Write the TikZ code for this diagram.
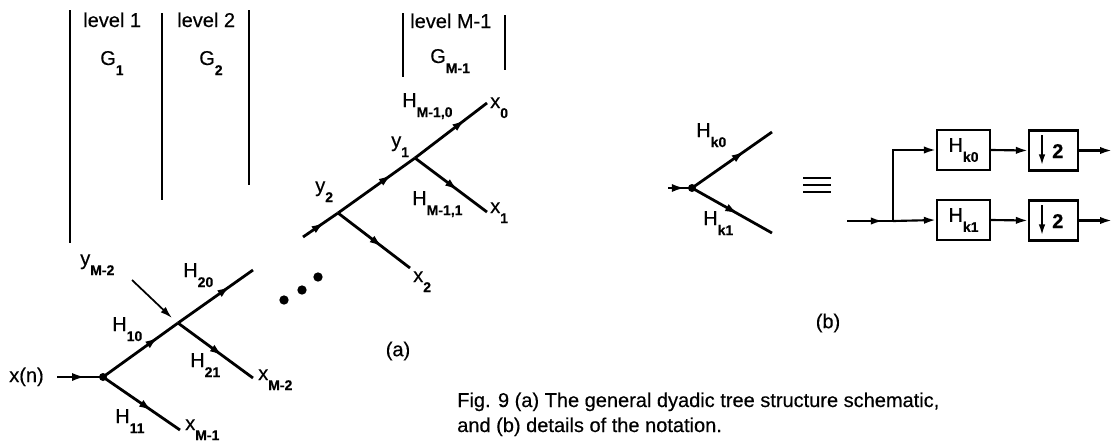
\documentclass[tikz,border=0pt]{standalone}
\usepackage{fontspec}
\setmainfont{Liberation Sans}[FakeBold=0.4]
\usetikzlibrary{arrows.meta,decorations.markings,calc}
\newcommand\sbs[1]{\raisebox{-0.5em}{\fontsize{10.5}{10.5}\selectfont\bfseries #1}}
\begin{document}
\begin{tikzpicture}[x=0.75pt,y=-0.75pt,
  font=\fontsize{15}{18}\selectfont,
  br/.style={line width=2.1pt},
  midarr/.style={postaction={decorate},
    decoration={markings, mark=at position #1 with {\arrow{Latex[length=10pt,width=6pt]}}}},
  lbl/.style={anchor=base west, inner sep=0pt},
  sep/.style={line width=1.5pt},
  box/.style={draw, line width=1.6pt, inner sep=0pt, minimum width=39.75pt, minimum height=30pt},
  conn/.style={line width=1.6pt, -{Latex[length=9pt,width=5.5pt]}},
  dot/.style={circle, fill, inner sep=0pt, minimum size=6pt},
  bigdot/.style={circle, fill, inner sep=0pt, minimum size=7pt}]
\useasboundingbox (0,0) rectangle (1116,447);

% level separators
\draw[sep] (70,10) -- (70,243);
\draw[sep] (162,13) -- (162,200);
\draw[sep] (249,10) -- (249,185);
\draw[sep] (403,13) -- (403,77);
\draw[sep] (505,15) -- (505,70);
\node[lbl] (lv1) at (83,27) {level 1};
\node[lbl] (g1) at (100,65) {G\sbs{1}};
\node[lbl] (lv2) at (177,27) {level 2};
\node[lbl] (g2) at (199,65) {G\sbs{2}};
\node[lbl] (lvm) at (410,28) {level M-1};
\node[lbl] (gm) at (430,63) {G\sbs{M-1}};

% left tree
\coordinate (xs) at (57,377);
\node[dot] (n0) at (103,377) {};
\coordinate (n1) at (178,323);
\coordinate (e20) at (253,270);
\coordinate (e21) at (253,378);
\coordinate (e11) at (180,430);
\draw[br, midarr=0.62] (xs) -- (n0.center);
\draw[br, midarr=0.74] (n0.center) -- (n1);
\draw[br, midarr=0.7] (n1) -- (e20);
\draw[br, midarr=0.6] (n1) -- (e21);
\draw[br, midarr=0.64] (n0.center) -- (e11);
\coordinate (ya) at (132,280);
\coordinate (yb) at (172,318);
\draw[line width=1.3pt, -{Latex[length=9pt,width=5.5pt]}] (ya) -- (yb);

\node[lbl] (xn) at (9,382) {x(n)};
\node[lbl] (ym2) at (80,265) {y\sbs{M-2}};
\node[lbl] (h20) at (183,277) {H\sbs{20}};
\node[lbl] (h10) at (112,331) {H\sbs{10}};
\node[lbl] (h21) at (190,367) {H\sbs{21}};
\node[lbl] (h11) at (115,423) {H\sbs{11}};
\node[lbl] (xm2) at (258,380) {x\sbs{M-2}};
\node[lbl] (xm1) at (185,430) {x\sbs{M-1}};

\node[bigdot] (d1) at (284,300) {};
\node[bigdot] (d2) at (302,290) {};
\node[bigdot] (d3) at (318,277) {};

% right tree
\coordinate (ri) at (303,237);
\coordinate (n2) at (338,213);
\coordinate (n3) at (415,158);
\coordinate (e0) at (487,103);
\coordinate (e1) at (487,212);
\coordinate (e2) at (410,268);
\draw[br, midarr=0.62] (ri) -- (n2);
\draw[br, midarr=0.7] (n2) -- (n3);
\draw[br, midarr=0.7] (n3) -- (e0);
\draw[br, midarr=0.6] (n3) -- (e1);
\draw[br, midarr=0.62] (n2) -- (e2);
\node[lbl] (hm0) at (402,107) {H\sbs{M-1,0}};
\node[lbl] (x0) at (490,108) {x\sbs{0}};
\node[lbl] (y1) at (391,147) {y\sbs{1}};
\node[lbl] (y2) at (315,192) {y\sbs{2}};
\node[lbl] (hm1) at (412,205) {H\sbs{M-1,1}};
\node[lbl] (x1) at (490,213) {x\sbs{1}};
\node[lbl] (x2) at (413,282) {x\sbs{2}};

\node (la) at (398,351) {(a)};
\node (lb) at (828,323) {(b)};

% (b) notation
\coordinate (bi) at (668,188);
\node[dot] (bn) at (692,188) {};
\coordinate (bu) at (772,132);
\coordinate (bd) at (772,233);
\draw[br, midarr=0.72] (bi) -- (bn.center);
\draw[br, midarr=0.66] (bn.center) -- (bu);
\draw[br, midarr=0.58] (bn.center) -- (bd);
\node[lbl] (hk0) at (696,137) {H\sbs{k0}};
\node[lbl] (hk1) at (703,225) {H\sbs{k1}};

% equivalence sign
\draw[line width=1.7pt] (803,178) -- (831,178);
\draw[line width=1.7pt] (803,185) -- (831,185);
\draw[line width=1.7pt] (803,192) -- (831,192);

% block diagram
\coordinate (bin) at (847,221);
\coordinate (J) at (893,221);
\node[box] (A) at (963.5,150) {H\sbs{k0}};
\node[box, minimum width=36.75pt] (B) at (1053.5,150.5) {};
\node[box] (C) at (963.5,220) {H\sbs{k1}};
\node[box, minimum width=36.75pt] (D) at (1053.5,220.5) {};
\coordinate (oA) at (1112,150.5);
\coordinate (oD) at (1112,220.5);
\draw[line width=1.6pt, postaction={decorate},
  decoration={markings, mark=at position 0.78 with {\arrow{Latex[length=9pt,width=5.5pt]}}}] (bin) -- (J);
\draw[conn] (J) |- (A.west);
\draw[conn] (J) -- (C.west);
\draw[conn] (A.east) -- (B.west);
\draw[conn] (C.east) -- (D.west);
\draw[conn] (B.east) -- (oA);
\draw[conn] (D.east) -- (oD);
\foreach \b in {B,D}{
  \coordinate (\b t) at ($(\b.center)+(-11.5,-15.5)$);
  \coordinate (\b s) at ($(\b.center)+(-11.5,14.5)$);
  \draw[line width=1.3pt, -{Latex[length=8pt,width=5pt]}] (\b t) -- (\b s);
  \node[lbl] (\b two) at ($(\b.center)+(-1.5,7.5)$) {\bfseries 2};
}

% caption
\node[lbl] (cap1) at (457,407) {Fig. 9 (a) The general dyadic tree structure schematic,};
\node[lbl] (cap2) at (457,432) {and (b) details of the notation.};
\end{tikzpicture}
\end{document}
